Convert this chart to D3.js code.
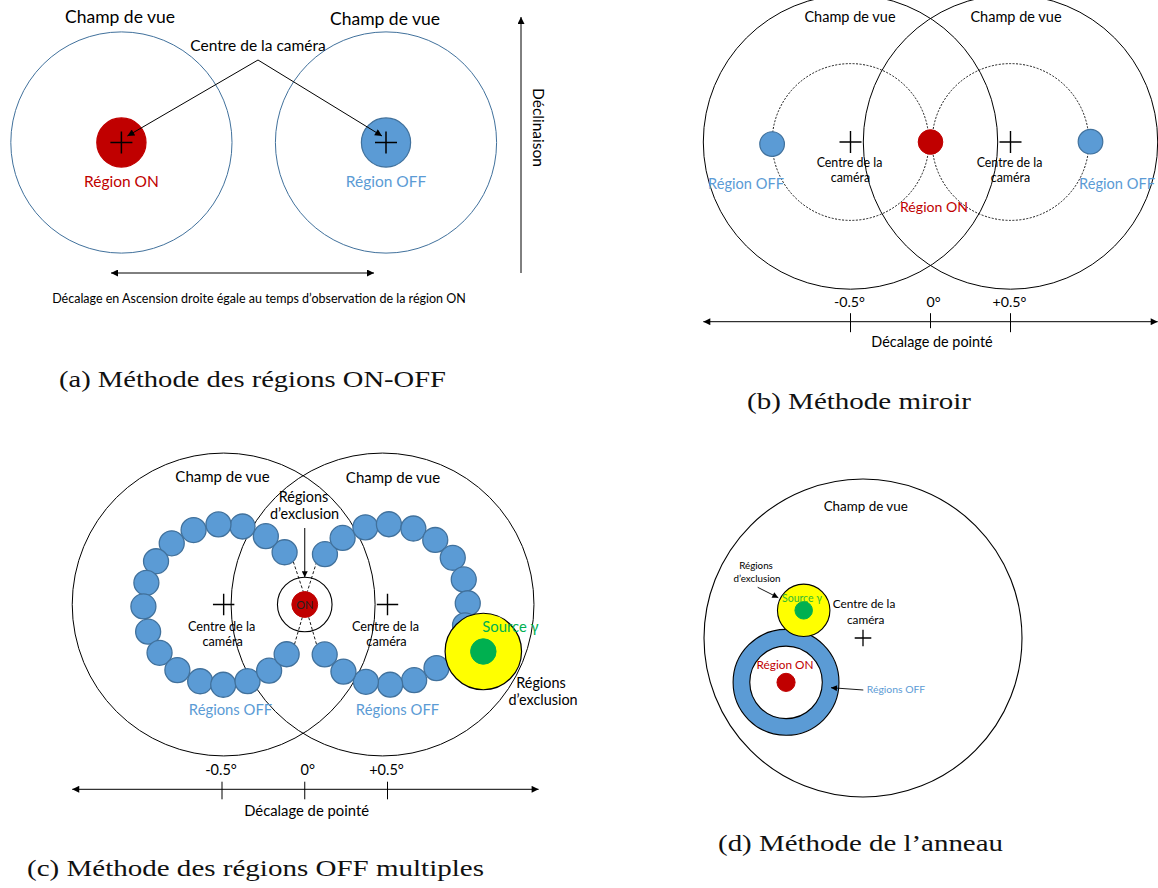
<!DOCTYPE html>
<html><head><meta charset="utf-8">
<script src="https://cdn.jsdelivr.net/npm/d3@7"></script>
<style>
html,body{margin:0;padding:0;background:#fff;}
svg{display:block;font-family:Lato,'Open Sans',sans-serif;}
</style>
</head><body>
<svg id="fig" width="1158" height="888"></svg>
<script>
// ================= DATA =================
// (a) ON-OFF : positions in units of the ON->OFF shift
const regionsA = ["Région ON", "Région OFF"];
const regionPosA = [0, 1];
const fovRadiusA = 0.418;
const regionRadiusA = 0.093;

// (b) mirror : degrees of pointing offset
const camerasB = [-0.5, 0.5];
const fovRadiusB = 0.92;
const wobbleRadiusB = 0.49;
const offPosB = [-0.99, 1.0];
const offYB = [-0.013, 0.002];
const onPosB = 0;
const regionRadiusB = 0.077;
const ticksB = [-0.5, 0, 0.5];
const tickLabelsB = ["-0.5°", "0°", "+0.5°"];
const axisExtentB = [-1.42, 1.42];

// (c) multiple OFF : degrees
const fovCentersC = [-0.49, 0.47];
const camerasC = [-0.49, 0.5];
const fovRadiusC = 0.915;
const ringRadiusC = 0.485;
const offAnglesLeftC = [40.6, 58.3, 76.4, 93.7, 112, 130.3, 147.4, 164.3, 181.4, 199.8, 217, 234.8, 253, 269.7, 287.3, 304.5, 321.7];
const offAnglesRightC = [141.2, 124, 106, 89, 71.2, 53.5, 35.6, 18.2, 0.9, -15, -52.4, -70.6, -88.1, -105.6, -123.3, -141.5];
const offRadiusC = 0.0755;
const onExclRadiusC = 0.165;
const onRadiusC = 0.078;
const sourceXC = 1.079, sourceYC = -0.284;
const sourceExclRadiusC = 0.231;
const sourceRadiusC = 0.077;
const ticksC = [-0.5, 0, 0.5];
const tickLabelsC = ["-0.5°", "0°", "+0.5°"];
const axisExtentC = [-1.405, 1.413];

// (d) ring : units of the field-of-view radius
const fovRadiusD = 1;
const sourceXD = -0.373, sourceYD = 0.174;
const sourceExclRadiusD = 0.165, sourceRadiusD = 0.055;
const ringXD = -0.484, ringYD = -0.279;
const ringOuterD = 0.333, ringInnerD = 0.228, onRadiusD = 0.057;

const captions = ["(a) Méthode des régions ON-OFF", "(b) Méthode miroir", "(c) Méthode des régions OFF multiples", "(d) Méthode de l’anneau"];

// ================= STYLE =================
const RED = "#C00000", BLUE = "#5B9BD5", BLUE_ST = "#41719C", GREEN = "#00B050", YELLOW = "#FFFF00", FOV_A = "#41719C";

const svg = d3.select("#fig");
const defs = svg.append("defs");
defs.append("marker").attr("id", "ah").attr("viewBox", "0 0 10 10")
  .attr("refX", 10).attr("refY", 5).attr("markerUnits", "userSpaceOnUse")
  .attr("markerWidth", 9).attr("markerHeight", 7).attr("orient", "auto-start-reverse")
  .append("path").attr("d", "M0,0 L10,5 L0,10 z").attr("fill", "#000");
defs.append("marker").attr("id", "ahs").attr("viewBox", "0 0 10 10")
  .attr("refX", 10).attr("refY", 5).attr("markerUnits", "userSpaceOnUse")
  .attr("markerWidth", 7).attr("markerHeight", 6).attr("orient", "auto-start-reverse")
  .append("path").attr("d", "M0,0 L10,5 L0,10 z").attr("fill", "#000");

function circ(g, cx, cy, r, fill, stroke, sw, dash) {
  const c = g.append("circle").attr("cx", cx).attr("cy", cy).attr("r", r)
    .attr("fill", fill || "none").attr("stroke", stroke || "none").attr("stroke-width", sw || 1);
  if (dash) c.attr("stroke-dasharray", dash);
  return c;
}
function cross(g, x, y, h, sw) {
  g.append("path").attr("d", `M${x - h},${y}H${x + h}M${x},${y - h}V${y + h}`)
    .attr("stroke", "#000").attr("stroke-width", sw || 1.4).attr("fill", "none");
}
function txt(g, s, x, y, size, color, anchor) {
  return g.append("text").attr("x", x).attr("y", y).attr("font-size", size)
    .attr("fill", color || "#000").attr("text-anchor", anchor || "middle").text(s);
}
function line(g, x1, y1, x2, y2, opts) {
  opts = opts || {};
  const l = g.append("line").attr("x1", x1).attr("y1", y1).attr("x2", x2).attr("y2", y2)
    .attr("stroke", "#000").attr("stroke-width", opts.sw || 1);
  if (opts.end) l.attr("marker-end", `url(#${opts.end})`);
  if (opts.start) l.attr("marker-start", `url(#${opts.start})`);
  if (opts.dash) l.attr("stroke-dasharray", opts.dash);
  return l;
}

// ================= PANEL A =================
{
  const g = svg.append("g");
  const x = d3.scaleLinear().domain([0, 1]).range([121.4, 386]);
  const y = d3.scaleLinear().domain([0, 1]).range([142.5, 142.5 - 264.6]);
  const k = x(1) - x(0);
  regionPosA.forEach(p => circ(g, x(p), y(0), fovRadiusA * k, "none", FOV_A, 1));
  regionPosA.forEach((p, i) => {
    circ(g, x(p), y(0), regionRadiusA * k, i === 0 ? RED : BLUE, i === 0 ? RED : BLUE_ST, 1.2);
    cross(g, x(p), y(0), 11, 1.5);
    txt(g, regionsA[i], x(p), 187, 15.5, i === 0 ? RED : BLUE);
  });
  txt(g, "Champ de vue", 120, 23, 17.5);
  txt(g, "Champ de vue", 385, 25, 17.5);
  txt(g, "Centre de la caméra", 258, 51, 15.5);
  line(g, 258, 60, x(0) + 6, 136, {end: "ah"});
  line(g, 258, 60, x(1) - 4, 136, {end: "ah"});
  line(g, 111, 273, 374, 273, {start: "ah", end: "ah"});
  txt(g, "Décalage en Ascension droite égale au temps d’observation de la région ON", 259, 303, 12.5);
  line(g, 521, 273, 521, 17, {end: "ah"});
  g.append("text").attr("transform", "translate(539,127.5) rotate(90)").attr("font-size", 15.5)
    .attr("text-anchor", "middle").attr("dominant-baseline", "central").text("Déclinaison");
}

// ================= PANEL B =================
{
  const g = svg.append("g");
  const x = d3.scaleLinear().domain([-0.5, 0.5]).range([850.5, 1010.5]);
  const y = d3.scaleLinear().domain([0, 1]).range([142, -18]);
  const k = x(1) - x(0);
  camerasB.forEach(c => circ(g, x(c), y(0), fovRadiusB * k, "none", "#000", 1));
  camerasB.forEach(c => circ(g, x(c), y(0), wobbleRadiusB * k, "none", "#000", 0.9, "2,1.5"));
  camerasB.forEach(c => cross(g, x(c), y(0), 11, 1.4));
  circ(g, x(onPosB), y(0), regionRadiusB * k, RED, RED, 1);
  offPosB.forEach((p, i) => circ(g, x(p), y(offYB[i]), regionRadiusB * k, BLUE, BLUE_ST, 1.2));
  txt(g, "Champ de vue", 850, 22, 14.5);
  txt(g, "Champ de vue", 1016, 22, 14.5);
  camerasB.forEach(c => {
    txt(g, "Centre de la", x(c) - 1, 167, 12.4);
    txt(g, "caméra", x(c), 182, 12.4);
  });
  txt(g, "Région OFF", 746, 189, 14.6, BLUE);
  txt(g, "Région OFF", 1117, 189, 14.6, BLUE);
  txt(g, "Région ON", 934, 212, 14.1, RED);
  const ay = 321.7;
  line(g, x(axisExtentB[0]), ay, x(axisExtentB[1]), ay, {start: "ah", end: "ah"});
  ticksB.forEach((t, i) => {
    line(g, x(t), ay - 8.5, x(t), ay + (t === 0 ? 6.5 : 10.5));
    txt(g, tickLabelsB[i], x(t) + (t === 0 ? 3 : -1), 307, 14.2);
  });
  txt(g, "Décalage de pointé", 932, 347, 14.4);
}

// ================= PANEL C =================
{
  const g = svg.append("g");
  const x = d3.scaleLinear().domain([-0.5, 0.5]).range([222, 387.5]);
  const y = d3.scaleLinear().domain([0, 1]).range([604.5, 604.5 - 165.5]);
  const k = x(1) - x(0);
  fovCentersC.forEach(c => circ(g, x(c), y(0), fovRadiusC * k, "none", "#000", 1));
  camerasC.forEach(c => cross(g, x(c), y(0), 10.7, 1.4));
  const rad = Math.PI / 180;
  const dl = [[293.3, 561.7, 303.3, 591.7], [316.7, 561.7, 307.3, 591.7], [302.3, 617.3, 294.3, 645], [308.7, 617.3, 316.7, 645]];
  circ(g, x(0), y(0), onExclRadiusC * k, "#fff", "#000", 1.1);
  dl.forEach(d => line(g, d[0], d[1], d[2], d[3], {dash: "3,2", sw: 0.9}));
  circ(g, x(0), y(0), onRadiusC * k, RED, RED, 1);
  txt(g, "ON", x(0), y(0) + 4, 11, "#222");
  const offs = [];
  offAnglesLeftC.forEach(a => offs.push([camerasC[0] + ringRadiusC * Math.cos(a * rad), ringRadiusC * Math.sin(a * rad)]));
  offAnglesRightC.forEach(a => offs.push([camerasC[1] + ringRadiusC * Math.cos(a * rad), ringRadiusC * Math.sin(a * rad)]));
  g.selectAll("circle.off").data(offs).join("circle").attr("class", "off")
    .attr("cx", d => x(d[0])).attr("cy", d => y(d[1])).attr("r", offRadiusC * k)
    .attr("fill", BLUE).attr("stroke", BLUE_ST).attr("stroke-width", 1.3);
  circ(g, x(sourceXC), y(sourceYC), sourceExclRadiusC * k, YELLOW, "#000", 1.2);
  circ(g, x(sourceXC), y(sourceYC), sourceRadiusC * k, GREEN, GREEN, 1);
  txt(g, "Source γ", 510.5, 632, 14.8, GREEN);
  txt(g, "Champ de vue", 222.5, 481.7, 15);
  txt(g, "Champ de vue", 393, 482.7, 15);
  txt(g, "Régions", 303.5, 501.7, 14.4);
  txt(g, "d’exclusion", 304.5, 519.3, 14.4);
  line(g, x(0), 528, x(0), y(0) - onExclRadiusC * k, {end: "ahs"});
  camerasC.forEach(c => {
    txt(g, "Centre de la", x(c) - 2, 630.7, 12.7);
    txt(g, "caméra", x(c) - 1, 645.7, 12.7);
  });
  txt(g, "Régions OFF", 230.5, 715, 14.8, BLUE);
  txt(g, "Régions OFF", 397.5, 715, 14.8, BLUE);
  txt(g, "Régions", 541, 688, 14.4);
  txt(g, "d’exclusion", 543, 705, 14.4);
  const ay = 789.3;
  line(g, x(axisExtentC[0]), ay, x(axisExtentC[1]), ay, {start: "ah", end: "ah"});
  ticksC.forEach((t, i) => {
    line(g, x(t), ay - 7.6, x(t), ay + 10);
    txt(g, tickLabelsC[i], x(t) + (t === 0 ? 3 : -1), 775, 14.5);
  });
  txt(g, "Décalage de pointé", 306.6, 816, 14.8);
}

// ================= PANEL D =================
{
  const g = svg.append("g");
  const x = d3.scaleLinear().domain([-1, 1]).range([704, 1022]);
  const y = d3.scaleLinear().domain([-1, 1]).range([797, 479]);
  const k = (x(1) - x(-1)) / 2;
  circ(g, x(0), y(0), fovRadiusD * k, "none", "#000", 1.1);
  circ(g, x(ringXD), y(ringYD), ringOuterD * k, BLUE, "#000", 1.1);
  circ(g, x(ringXD), y(ringYD), ringInnerD * k, "#fff", "#000", 1.1);
  circ(g, x(ringXD), y(ringYD), onRadiusD * k, RED, RED, 1);
  circ(g, x(sourceXD), y(sourceYD), sourceExclRadiusD * k, YELLOW, "#000", 1.1);
  circ(g, x(sourceXD), y(sourceYD), sourceRadiusD * k, GREEN, GREEN, 1);
  cross(g, x(0), y(0), 8.3, 1.3);
  txt(g, "Champ de vue", 865.7, 510.7, 13.4);
  txt(g, "Régions", 756, 569, 9.8);
  txt(g, "d’exclusion", 757, 581.7, 9.8);
  line(g, 757.7, 587.3, 778.3, 597.7, {end: "ahs", sw: 0.9});
  txt(g, "Source γ", 802, 601.7, 10.5, "#33BB33");
  txt(g, "Centre de la", 864, 608.3, 11.8);
  txt(g, "caméra", 865.7, 624, 11.8);
  txt(g, "Région ON", 785, 669.3, 11.8, RED);
  txt(g, "Régions OFF", 896, 693.3, 10.4, BLUE);
  line(g, 863.3, 690, 831, 687.7, {end: "ahs", sw: 0.9});
}

// ================= CAPTIONS =================
{
  const g = svg.append("g");
  const pos = [[59, 387, 387], [747, 409, 224], [27, 876, 457], [718, 851, 285]];
  captions.forEach((c, i) => {
    g.append("text").attr("x", pos[i][0]).attr("y", pos[i][1]).attr("font-size", 23)
      .attr("textLength", pos[i][2]).attr("lengthAdjust", "spacingAndGlyphs")
      .attr("fill", "#111").style("font-family", "'Liberation Serif','DejaVu Serif',serif").text(c);
  });
}
</script>
</body></html>
